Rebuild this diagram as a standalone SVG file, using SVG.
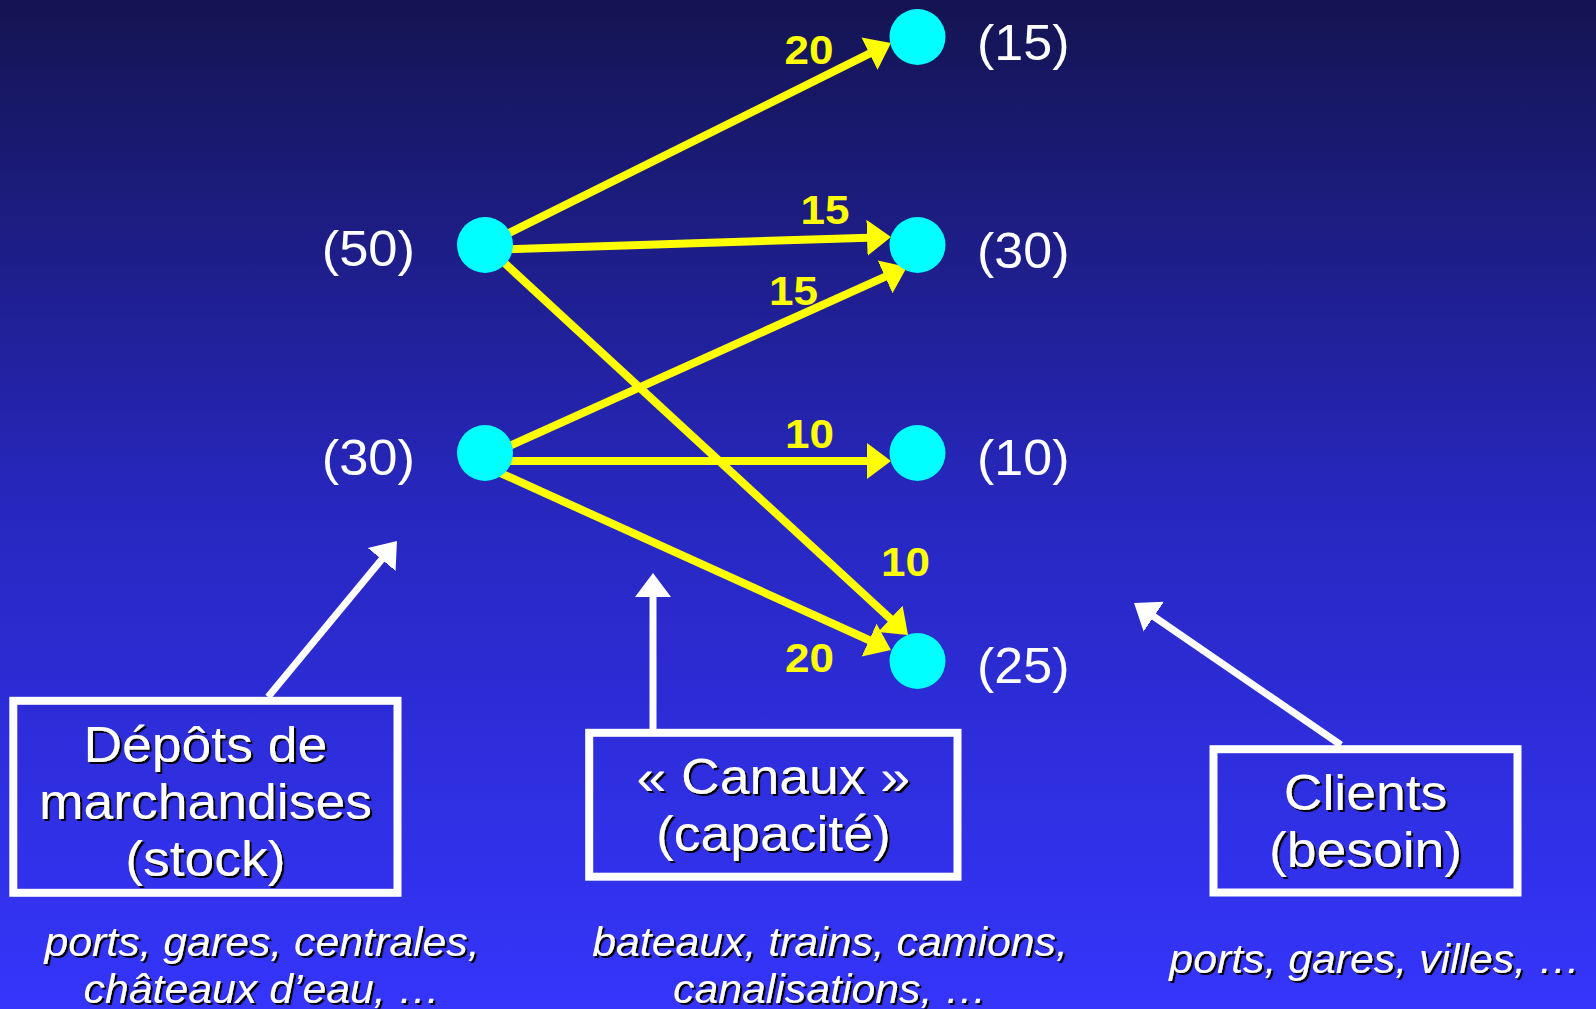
<svg xmlns="http://www.w3.org/2000/svg" width="1596" height="1009" viewBox="0 0 1596 1009">
  <defs>
    <linearGradient id="bg" x1="0" y1="0" x2="0" y2="1">
      <stop offset="0" stop-color="#141452"/>
      <stop offset="0.5" stop-color="#2727bf"/>
      <stop offset="1" stop-color="#3535fc"/>
    </linearGradient>
    <marker id="headY" markerUnits="userSpaceOnUse" markerWidth="30" markerHeight="40" refX="1" refY="0" orient="auto" viewBox="0 -20 30 40">
      <path d="M0,-18 L24,0 L0,18 Z" fill="#ffff00"/>
    </marker>
    <marker id="headW" markerUnits="userSpaceOnUse" markerWidth="30" markerHeight="40" refX="1" refY="0" orient="auto" viewBox="0 -20 30 40">
      <path d="M0,-18 L24,0 L0,18 Z" fill="#ffffff"/>
    </marker>
    <filter id="shadow" x="-5%" y="-20%" width="115%" height="150%">
      <feDropShadow dx="2" dy="2" stdDeviation="0.4" flood-color="#000000" flood-opacity="1"/>
    </filter>
  </defs>
  <style>
    .flow { stroke: #ffff00; stroke-width: 8; fill: none; marker-end: url(#headY); }
    .pointer { stroke: #ffffff; stroke-width: 7; fill: none; marker-end: url(#headW); }
    .node { fill: #00ffff; }
    .qty { font-family: "Liberation Sans", Arial, sans-serif; font-size: 50px; fill: #ffffff; }
    .cap { font-family: "Liberation Sans", Arial, sans-serif; font-size: 40px; font-weight: bold; fill: #ffff00; text-anchor: middle; }
    .box { fill: none; stroke: #ffffff; stroke-width: 8; }
    .title { font-family: "Liberation Sans", Arial, sans-serif; font-size: 50px; fill: #ffffff; text-anchor: middle; filter: url(#shadow); }
    .examples { font-family: "Liberation Sans", Arial, sans-serif; font-size: 40px; font-style: italic; fill: #ffffff; text-anchor: middle; filter: url(#shadow); }
  </style>

  <rect x="0" y="0" width="1596" height="1009" fill="url(#bg)"/>

  <!-- flows between depots and clients, plus the pointers from the legend boxes -->
  <g id="connectors">
    <line class="flow" x1="485" y1="245" x2="870.4" y2="53.2"/>
    <line class="flow" x1="485" y1="250" x2="868" y2="237.7"/>
    <line class="flow" x1="485" y1="245" x2="891.1" y2="619.4"/>
    <line class="flow" x1="485" y1="457" x2="886" y2="276.4"/>
    <line class="flow" x1="485" y1="461" x2="868" y2="461"/>
    <line class="flow" x1="485" y1="466" x2="870" y2="640.5"/>

    <g transform="translate(809,64) scale(1.1,1)"><text class="cap" x="0" y="0">20</text></g>
    <g transform="translate(825,224) scale(1.1,1)"><text class="cap" x="0" y="0">15</text></g>
    <g transform="translate(793.5,305) scale(1.1,1)"><text class="cap" x="0" y="0">15</text></g>
    <g transform="translate(809.5,448) scale(1.1,1)"><text class="cap" x="0" y="0">10</text></g>
    <g transform="translate(905.5,576) scale(1.1,1)"><text class="cap" x="0" y="0">10</text></g>
    <g transform="translate(809.5,672) scale(1.1,1)"><text class="cap" x="0" y="0">20</text></g>

    <line class="pointer" x1="268" y1="697" x2="382.3" y2="558.7"/>
    <line class="pointer" x1="653" y1="729" x2="653" y2="596"/>
    <line class="pointer" x1="1341" y1="745" x2="1153" y2="616"/>
  </g>

  <!-- depots -->
  <g id="depot-50">
    <circle class="node" cx="485" cy="245" r="28"/>
    <g transform="translate(415,266) scale(1.05,1)"><text class="qty" x="0" y="0" text-anchor="end">(50)</text></g>
  </g>
  <g id="depot-30">
    <circle class="node" cx="485" cy="453" r="28"/>
    <g transform="translate(415,475) scale(1.05,1)"><text class="qty" x="0" y="0" text-anchor="end">(30)</text></g>
  </g>

  <!-- clients -->
  <g id="client-15">
    <circle class="node" cx="917.5" cy="37" r="28"/>
    <g transform="translate(977,60) scale(1.04,1)"><text class="qty" x="0" y="0">(15)</text></g>
  </g>
  <g id="client-30">
    <circle class="node" cx="917.5" cy="245" r="28"/>
    <g transform="translate(977,268) scale(1.04,1)"><text class="qty" x="0" y="0">(30)</text></g>
  </g>
  <g id="client-10">
    <circle class="node" cx="917.5" cy="453" r="28"/>
    <g transform="translate(977,475) scale(1.04,1)"><text class="qty" x="0" y="0">(10)</text></g>
  </g>
  <g id="client-25">
    <circle class="node" cx="917.5" cy="661" r="28"/>
    <g transform="translate(977,683) scale(1.04,1)"><text class="qty" x="0" y="0">(25)</text></g>
  </g>

  <!-- legend boxes -->
  <g id="box-depots">
    <rect class="box" x="13.3" y="700.8" width="384.2" height="192"/>
    <g transform="translate(205.4,0) scale(1.07,1)">
      <text class="title" x="0" y="762">Dépôts de</text>
      <text class="title" x="0" y="819">marchandises</text>
      <text class="title" x="0" y="876">(stock)</text>
    </g>
    <g transform="translate(262,0) scale(1.07,1)">
      <text class="examples" x="0" y="956">ports, gares, centrales,</text>
      <text class="examples" x="0" y="1003">châteaux d’eau, …</text>
    </g>
  </g>

  <g id="box-canaux">
    <rect class="box" x="589.2" y="732.8" width="368.3" height="143.9"/>
    <g transform="translate(773.3,0) scale(1.07,1)">
      <text class="title" x="0" y="794">« Canaux »</text>
      <text class="title" x="0" y="851">(capacité)</text>
    </g>
    <g transform="translate(830,0) scale(1.07,1)">
      <text class="examples" x="0" y="956">bateaux, trains, camions,</text>
      <text class="examples" x="0" y="1003">canalisations, …</text>
    </g>
  </g>

  <g id="box-clients">
    <rect class="box" x="1213.5" y="749.2" width="304" height="143.3"/>
    <g transform="translate(1365.5,0) scale(1.07,1)">
      <text class="title" x="0" y="810">Clients</text>
      <text class="title" x="0" y="867">(besoin)</text>
    </g>
    <g transform="translate(1375,0) scale(1.07,1)">
      <text class="examples" x="0" y="973">ports, gares, villes, …</text>
    </g>
  </g>
</svg>
